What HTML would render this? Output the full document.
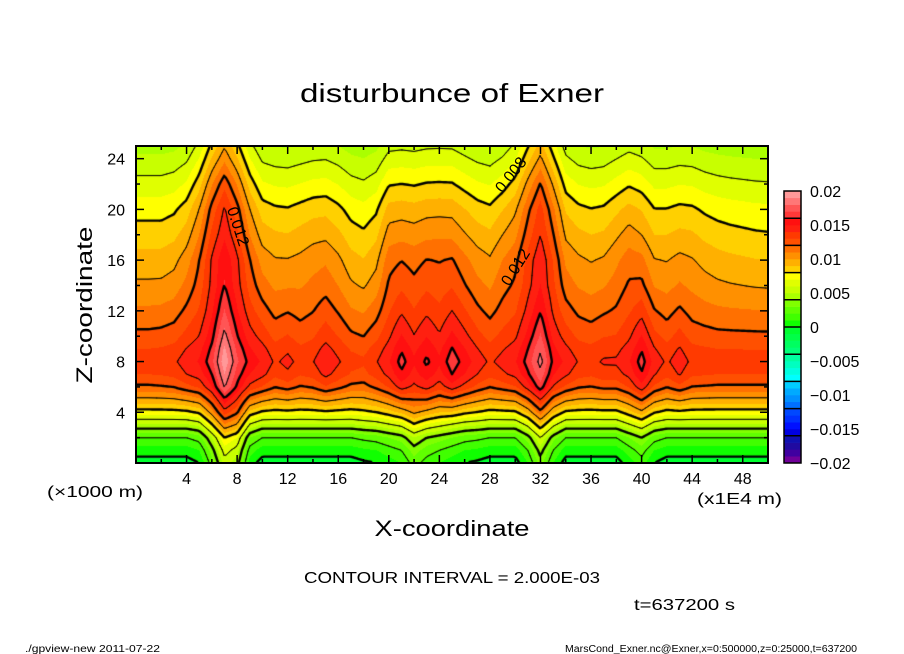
<!DOCTYPE html>
<html><head><meta charset="utf-8"><style>
html,body{margin:0;padding:0;background:#fff;}
#wrap{position:relative;width:904px;height:654px;overflow:hidden;background:#fff;}
#fill{position:absolute;left:136px;top:146px;}
svg{position:absolute;left:0;top:0;}
text{font-family:"Liberation Sans",sans-serif;fill:#000;}
</style></head><body>
<div id="wrap">
<canvas id="fill" width="632" height="317"></canvas>
<svg id="ov" width="904" height="654">
<text x="452" y="102" font-size="26" text-anchor="middle" textLength="304" lengthAdjust="spacingAndGlyphs">disturbunce of Exner</text>
<text x="452" y="536" font-size="22" text-anchor="middle" textLength="155" lengthAdjust="spacingAndGlyphs">X-coordinate</text>
<text transform="translate(92,305) rotate(-90)" font-size="22" text-anchor="middle" textLength="157" lengthAdjust="spacingAndGlyphs">Z-coordinate</text>
<text x="47" y="497" font-size="16" textLength="96" lengthAdjust="spacingAndGlyphs">(×1000 m)</text>
<text x="697" y="504" font-size="16" textLength="85" lengthAdjust="spacingAndGlyphs">(x1E4 m)</text>
<text x="452" y="583" font-size="16" text-anchor="middle" textLength="296" lengthAdjust="spacingAndGlyphs">CONTOUR INTERVAL = 2.000E-03</text>
<text x="634" y="610" font-size="16" textLength="101" lengthAdjust="spacingAndGlyphs">t=637200 s</text>
<text x="25" y="652" font-size="10" textLength="135" lengthAdjust="spacingAndGlyphs">./gpview-new  2011-07-22</text>
<text x="565" y="652" font-size="10" textLength="292" lengthAdjust="spacingAndGlyphs">MarsCond_Exner.nc@Exner,x=0:500000,z=0:25000,t=637200</text>
<text transform="translate(233,228) rotate(72)" font-size="16" text-anchor="middle">0.012</text>
<text transform="translate(515,178) rotate(-52)" font-size="16" text-anchor="middle">0.008</text>
<text transform="translate(520,270) rotate(-58)" font-size="16" text-anchor="middle">0.012</text>
</svg>
</div>
<script>
// ---- data ----
const zLevels = [0,1,2,3,4,5,6,7,8,9,10,12,14,16,18,20,22,24,25];
const baseProfile = [-0.0005,0.0005,0.002,0.0048,0.0075,0.0097,0.0118,0.0130,0.0135,0.0130,0.0123,0.0112,0.0102,0.0094,0.0085,0.0076,0.0064,0.0052,0.0046];
const midWeight = [0,0,0,0,0.2,0.5,0.85,1,1,0.95,0.85,0.6,0.3,0.15,0,0,0,0,0];
const upperWeight = [0,0,0,0,0,0,0,0,0.05,0.1,0.2,0.45,0.8,1,1,0.9,0.75,0.6,0.55];
const topWeight = [0,0,0,0,0,0,0,0,0,0,0,0,0,0.2,0.5,0.8,1,1,1];
const lowWeight = [1,1,1,1,0.8,0.5,0.2,0,0,0,0,0,0,0,0,0,0,0,0];
const xColumns = [0,1,2,3,4,5,6,7,8,9,10,11,12,13,14,15,16,17,18,19,20,21,22,23,24,25,26,27,28,29,30,31,32,33,34,35,36,37,38,39,40,41,42,43,44,45,46,47,48,49,50];
const midLevelValue = [0.0135,0.0135,0.0136,0.0138,0.0145,0.0150,0.0165,0.0195,0.0170,0.0155,0.0148,0.0138,0.0143,0.0136,0.0139,0.0148,0.0141,0.0134,0.0132,0.0139,0.0148,0.0163,0.0151,0.0161,0.0151,0.0165,0.0155,0.0145,0.0138,0.0143,0.0148,0.0163,0.0182,0.0156,0.0147,0.0139,0.0137,0.0141,0.0141,0.0148,0.0164,0.0146,0.0138,0.0146,0.0137,0.0136,0.0135,0.0135,0.0135,0.0135,0.0135];
const upperAnomaly = [0,0,0,0.00025,0.001,0.00225,0.004,0.00505,0.004,0.00225,0.001,0.00065,0.00055,0.00085,0.00115,0.00125,0.00075,0,-0.0003,0.00025,0.002,0.00215,0.002,0.00225,0.0023,0.00225,0.0016,0.001,0.0007,0.0015,0.002,0.00325,0.00425,0.003,0.00115,0.00075,0.0005,0.00065,0.0013,0.00195,0.0015,0.0005,0.0005,0.00075,0.00065,0.00025,0,-0.00015,-0.00025,-0.00035,-0.0004];
const topAnomaly = [0,0,0,0,0,0.0005,0.0015,0.0025,0.0015,0.0005,0,0,0,0,0,0,0,0,0,0,0,0,0,0,0,0,0,0,0,0,0.0005,0.0015,0.0025,0.0012,0.0003,0,0,0,0,0,0,0,0,0,0,0,0,0,0,0,0];
const lowAnomaly = [0,0,0,0,0,0.0005,0.003,0.006,0.005,0.001,0,0,0,0,0,0,0,0,0.0003,0.0005,0.001,0.0015,0.003,0.002,0.0015,0.001,0.0005,0.0003,0,0,0,0.0015,0.004,0.0015,0,0,0,0,0,0.001,0.002,0.0005,0,0,0,0,0,0,0,0,0];
const xTickLabels = [4,8,12,16,20,24,28,32,36,40,44,48];
const zTickLabels = [4,8,12,16,20,24];
const colorbarTickLabels = ["0.02","0.015","0.01","0.005","0","-0.005","-0.01","-0.015","-0.02"];
const colorbarTickValues = [0.02,0.015,0.01,0.005,0,-0.005,-0.01,-0.015,-0.02];
const shadeColors = ["#700099","#4000a0","#200aa0","#1010b0","#0000e0","#0010ff","#0030ff","#0048ff","#0070ff","#0090ff","#00aaff","#00ccff","#00ffff","#00ffe0","#00ffc0","#00ffa0","#00ff78","#00ff60","#00ff48","#00ff30","#10ff00","#40ff00","#60ff00","#80ff00","#aaff00","#c8ff00","#e0ff00","#ffff00","#ffd000","#ffb000","#ff9000","#ff7000","#ff5000","#ff3a00","#ff2010","#ff1010","#ff3838","#ff5555","#ff7777","#ff9999"];
const contourLevels = [0,0.002,0.004,0.006,0.008,0.010,0.012,0.014,0.016,0.018,0.020];

// ---- geometry ----
const PX0=136, PY0=146, PW=632, PH=317, XMAX=50, ZMAX=25;
const VMIN=-0.02, VMAX=0.02, SHADE=0.001;
function xs(x){return PX0 + x/XMAX*PW;}
function zsY(z){return PY0 + PH - z/ZMAX*PH;}
function interp(ax, ay, v){
  if(v<=ax[0]) return ay[0];
  for(let i=1;i<ax.length;i++){ if(v<=ax[i]){const t=(v-ax[i-1])/(ax[i]-ax[i-1]); return ay[i-1]+t*(ay[i]-ay[i-1]);} }
  return ay[ay.length-1];
}
const midRef = interp(zLevels, baseProfile, 8);
function field(x,z){
  return interp(zLevels,baseProfile,z)
   + (interp(xColumns,midLevelValue,x)-midRef)*interp(zLevels,midWeight,z)
   + interp(xColumns,upperAnomaly,x)*interp(zLevels,upperWeight,z)
   + interp(xColumns,topAnomaly,x)*interp(zLevels,topWeight,z)
   + interp(xColumns,lowAnomaly,x)*interp(zLevels,lowWeight,z);
}
function hexRgb(h){return [parseInt(h.substr(1,2),16),parseInt(h.substr(3,2),16),parseInt(h.substr(5,2),16)];}
const rgb = shadeColors.map(hexRgb);

// ---- fill ----
const cv=document.getElementById('fill'), ctx=cv.getContext('2d');
const img=ctx.createImageData(PW,PH);
for(let py=0;py<PH;py++){
  const z=(PH-py-0.5)/PH*ZMAX;
  for(let px=0;px<PW;px++){
    const x=(px+0.5)/PW*XMAX;
    let k=Math.floor((field(x,z)-VMIN)/SHADE);
    if(k<0)k=0; if(k>39)k=39;
    const c=rgb[k], o=(py*PW+px)*4;
    img.data[o]=c[0];img.data[o+1]=c[1];img.data[o+2]=c[2];img.data[o+3]=255;
  }
}
ctx.putImageData(img,0,0);

// ---- contours (marching squares) ----
const S=2, NX=Math.floor(PW/S)+1, NY=Math.floor(PH/S)+1;
const G=[];
for(let j=0;j<NY;j++){G.push([]);for(let i=0;i<NX;i++){G[j].push(field(i*S/PW*XMAX,(PH-j*S)/PH*ZMAX));}}
ctx.strokeStyle='#000';ctx.lineCap='round';ctx.lineJoin='round';
contourLevels.forEach(function(L){
  const thick=Math.abs(L/0.004-Math.round(L/0.004))<1e-6;
  ctx.lineWidth=thick?2.4:1;
  ctx.beginPath();
  for(let j=0;j<NY-1;j++)for(let i=0;i<NX-1;i++){
    const a=G[j][i],b=G[j][i+1],c=G[j+1][i+1],d=G[j+1][i];
    const pts=[];
    const x0=i*S,y0=j*S;
    if((a<L)!==(b<L)) pts.push([x0+S*(L-a)/(b-a),y0]);
    if((b<L)!==(c<L)) pts.push([x0+S,y0+S*(L-b)/(c-b)]);
    if((d<L)!==(c<L)) pts.push([x0+S*(L-d)/(c-d),y0+S]);
    if((a<L)!==(d<L)) pts.push([x0,y0+S*(L-a)/(d-a)]);
    if(pts.length>=2){ctx.moveTo(pts[0][0],pts[0][1]);ctx.lineTo(pts[1][0],pts[1][1]);}
    if(pts.length===4){ctx.moveTo(pts[2][0],pts[2][1]);ctx.lineTo(pts[3][0],pts[3][1]);}
  }
  ctx.stroke();
});

// ---- axes / ticks ----
const NS='http://www.w3.org/2000/svg', sv=document.getElementById('ov');
function mk(tag,attrs){const e=document.createElementNS(NS,tag);for(const k in attrs)e.setAttribute(k,attrs[k]);sv.appendChild(e);return e;}
for(let x=2;x<XMAX;x+=2){
  const maj=(x%4===0), len=maj?8:4, X=xs(x);
  const t1=mk('line',{x1:X,y1:PY0+PH,x2:X,y2:PY0+PH-len,stroke:'#000','stroke-width':1.5});
  
  
  const t2=mk('line',{x1:X,y1:PY0,x2:X,y2:PY0+len,stroke:'#000','stroke-width':1.5});
  
  
}
for(let z=2;z<ZMAX;z+=2){
  const maj=(z%4===0), len=maj?8:4, Y=zsY(z);
  const t1=mk('line',{x1:PX0,y1:Y,x2:PX0+len,y2:Y,stroke:'#000','stroke-width':1.5});
  
  
  const t2=mk('line',{x1:PX0+PW,y1:Y,x2:PX0+PW-len,y2:Y,stroke:'#000','stroke-width':1.5});
  
  
}
const fr=mk('rect',{x:PX0,y:PY0,width:PW,height:PH,fill:'none',stroke:'#000','stroke-width':2});


xTickLabels.forEach(function(v){
  const t=mk('text',{x:xs(v),y:484,'font-size':16,'text-anchor':'middle'});
  t.textContent=v;
  
  
});
zTickLabels.forEach(function(v){
  const t=mk('text',{x:125,y:zsY(v)+6,'font-size':16,'text-anchor':'end'});
  t.textContent=v;
  
  
});

// ---- colorbar ----
const CBX=784, CBW=17, CBTOP=191, CBBOT=463;
function cbY(v){return CBBOT-(v-VMIN)/(VMAX-VMIN)*(CBBOT-CBTOP);}
shadeColors.forEach(function(col,k){
  const v0=VMIN+k*SHADE, y1=cbY(v0+SHADE), y0=cbY(v0);
  const r=mk('rect',{x:CBX,y:y1,width:CBW,height:y0-y1+0.3,fill:col});
  
  
});
for(let k=4;k<40;k+=4){
  const y=cbY(VMIN+k*SHADE);
  const l=mk('line',{x1:CBX,y1:y,x2:CBX+CBW,y2:y,stroke:'#000','stroke-width':1.5});
  
  
}
const cbf=mk('rect',{x:CBX,y:CBTOP,width:CBW,height:CBBOT-CBTOP,fill:'none',stroke:'#000','stroke-width':1.5});


colorbarTickLabels.forEach(function(s,i){
  const t=mk('text',{x:810,y:cbY(colorbarTickValues[i])+6,'font-size':16});
  t.textContent=s.replace('-','\u2212');
  
  
});
</script>
</body></html>
